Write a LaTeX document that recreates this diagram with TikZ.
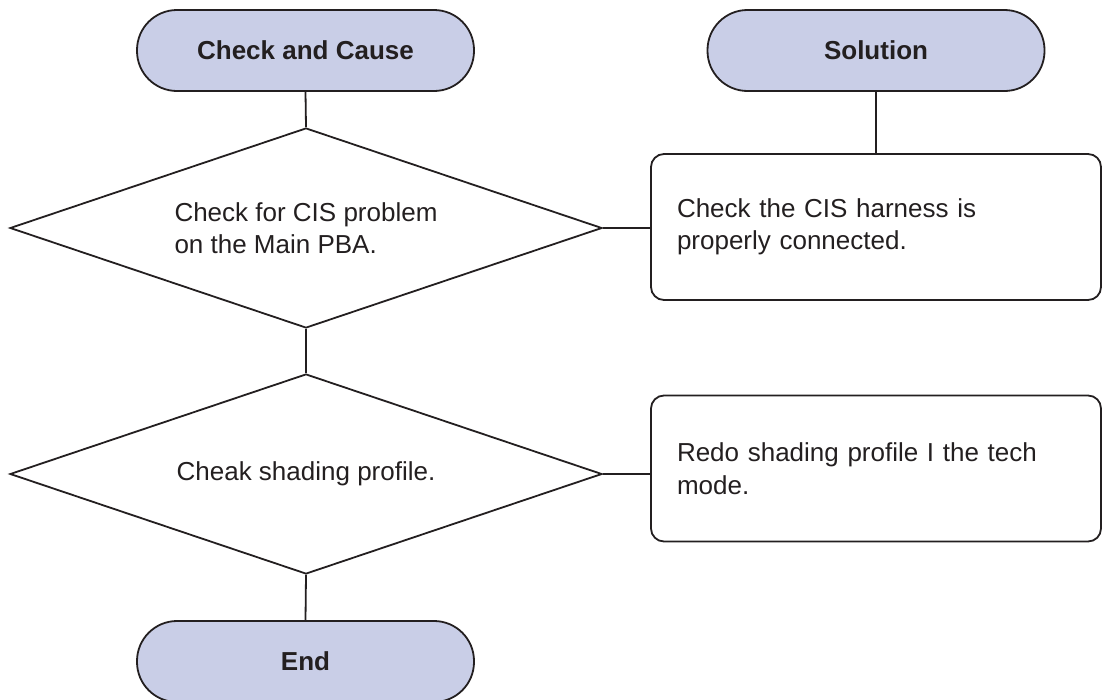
\documentclass[tikz,border=0pt]{standalone}
\usepackage{fontspec}
\setmainfont{Liberation Sans}
\usetikzlibrary{shapes.geometric}
\definecolor{fillblue}{HTML}{C9CEE7}
\definecolor{ink}{HTML}{231F20}
\tikzset{
  stadium/.style={draw=ink, fill=fillblue, line width=1.8pt, rounded corners=40pt,
    minimum width=337pt, minimum height=81pt, inner sep=0pt,
    font=\fontsize{26pt}{32pt}\selectfont\bfseries, text=ink},
  decision/.style={draw=ink, line width=1.8pt, shape=diamond, aspect=2.96,
    minimum width=592pt, minimum height=200pt, inner sep=0pt, align=left,
    font=\fontsize{26pt}{32.5pt}\selectfont, text=ink},
  solbox/.style={draw=ink, line width=1.8pt, rounded corners=13pt, minimum width=450pt,
    minimum height=146pt, inner xsep=26pt, inner ysep=0pt, text width=398pt, align=left,
    font=\fontsize{26pt}{32.5pt}\selectfont, text=ink},
  link/.style={draw=ink, line width=1.8pt}
}
\begin{document}
\begin{tikzpicture}[x=1pt, y=-1pt]
\useasboundingbox (0,0) rectangle (1102,699);
\node[stadium] (cc) at (305.5,50.5) {Check and Cause};
\node[stadium] (sol) at (876,50.5) {Solution};
\node[decision] (d1) at (306,228) {Check for CIS problem\\on the Main PBA.};
\node[decision] (d2) at (306,474) {Cheak shading profile.};
\node[solbox] (b1) at (876,227) {Check the CIS harness is\\properly connected.};
\node[solbox] (b2) at (876,468.5) {Redo shading profile I the tech\\mode.};
\node[stadium] (end) at (305.5,661.5) {End};
\draw[link] (cc.south) -- (d1.north);
\draw[link] (d1.south) -- (d2.north);
\draw[link] (d2.south) -- (end.north);
\draw[link] (d1.east) -- (d1.east -| b1.west);
\draw[link] (d2.east) -- (d2.east -| b2.west);
\draw[link] (sol.south) -- (b1.north);
\end{tikzpicture}
\end{document}
